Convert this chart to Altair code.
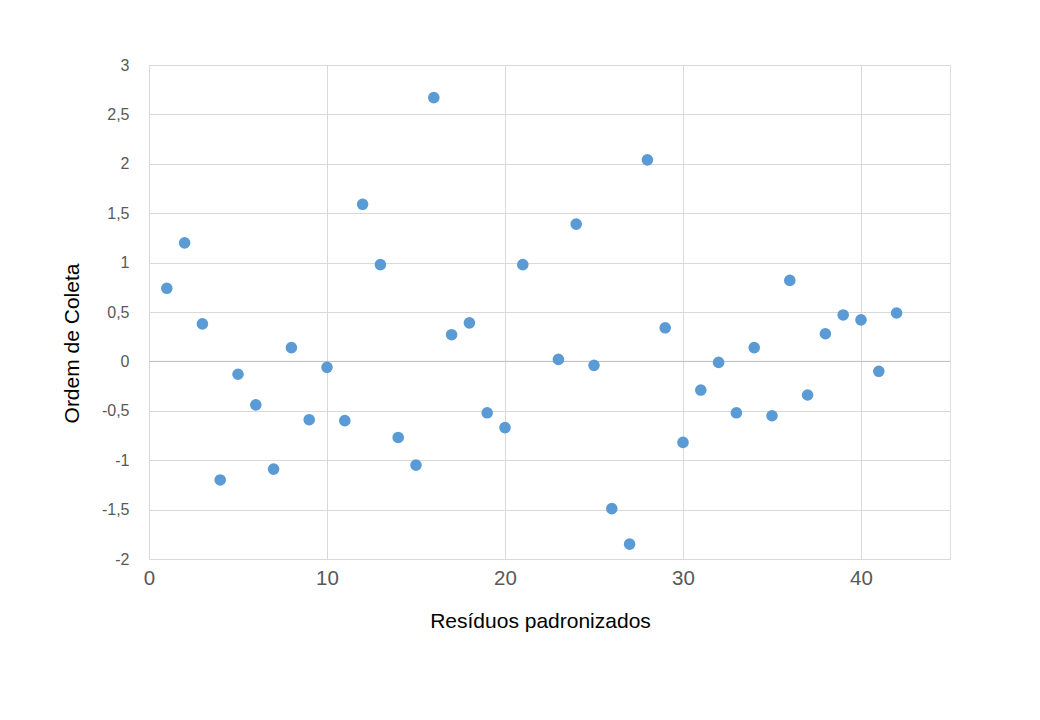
import altair as alt
import pandas as pd

ordem = list(range(1, 22)) + list(range(23, 43))
residuos = [0.74, 1.20, 0.38, -1.20, -0.13, -0.44, -1.09, 0.14, -0.59, -0.06,
            -0.60, 1.59, 0.98, -0.77, -1.05, 2.67, 0.27, 0.39, -0.52, -0.67,
            0.98,
            0.02, 1.39, -0.04, -1.49, -1.85, 2.04, 0.34, -0.82, -0.29, -0.01,
            -0.52, 0.14, -0.55, 0.82, -0.34, 0.28, 0.47, 0.42, -0.10, 0.49]

x_ticks = [0, 10, 20, 30, 40]
y_ticks = [-2, -1.5, -1, -0.5, 0, 0.5, 1, 1.5, 2, 2.5, 3]

df = pd.DataFrame({"x": ordem, "y": residuos})

FONT = "Liberation Sans"

points = alt.Chart(df).mark_circle(size=135, color="#5B9BD5", opacity=1).encode(
    x=alt.X("x:Q", scale=alt.Scale(domain=[0, 45], nice=False, zero=False),
            axis=alt.Axis(values=x_ticks, title="Resíduos padronizados",
                          labelFontSize=20.5, labelColor="#595959", labelPadding=9,
                          labelFont=FONT, titleFont=FONT, titleFontSize=21,
                          titleFontWeight="normal", titleColor="#000000",
                          titleX=391, titleY=62, titleBaseline="middle",
                          titleAnchor="start", titleAlign="center",
                          ticks=False, domain=False, gridColor="#d9d9d9",
                          labelFlush=False)),
    y=alt.Y("y:Q", scale=alt.Scale(domain=[-2, 3], nice=False, zero=False),
            axis=alt.Axis(values=y_ticks, title="Ordem de Coleta",
                          labelExpr="replace(toString(datum.value), '.', ',')",
                          labelFontSize=16, labelColor="#595959", labelPadding=20,
                          labelFont=FONT, titleFont=FONT, titleFontSize=21,
                          titleFontWeight="normal", titleColor="#000000",
                          titleX=-77, titleY=278, titleBaseline="middle",
                          titleAlign="center", titleAngle=-90,
                          ticks=False, domain=True, domainColor="#d9d9d9",
                          gridColor="#d9d9d9", labelFlush=False)),
)

zero_line = alt.Chart(pd.DataFrame({"y": [0]})).mark_rule(color="#bfbfbf", strokeWidth=1).encode(
    y="y:Q"
)

chart = (zero_line + points).properties(
    width=801, height=494,
    autosize=alt.AutoSizeParams(type="none"),
    padding={"left": 141, "top": 57, "right": 80, "bottom": 150},
).configure_view(stroke=None).configure(background="#ffffff")

chart.save("out.html", embed_options={"renderer": "svg", "actions": False})
